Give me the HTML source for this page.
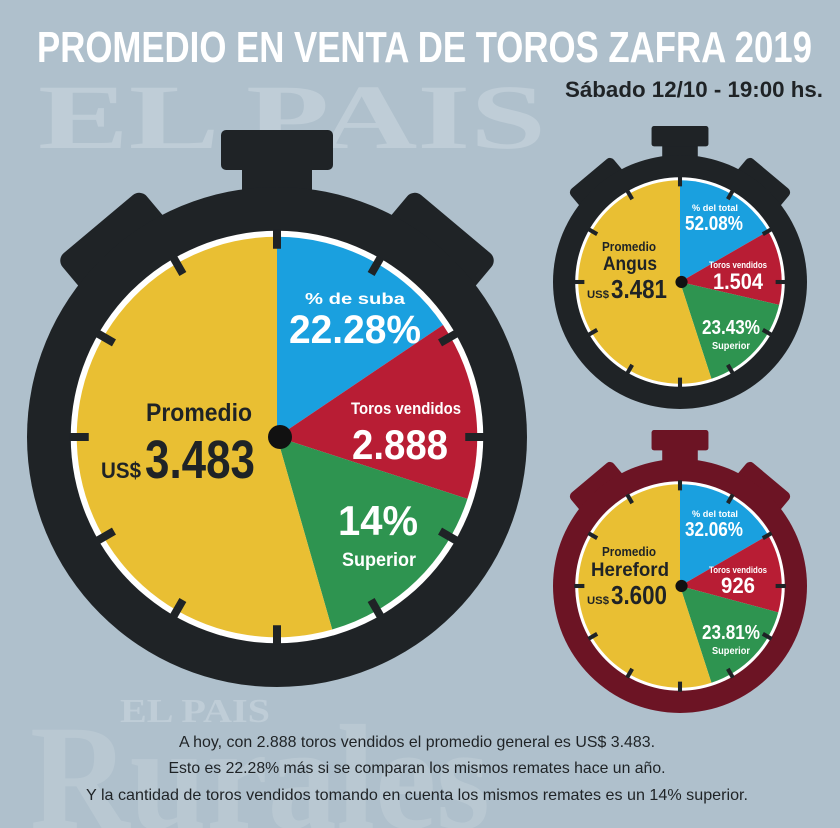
<!DOCTYPE html>
<html><head><meta charset="utf-8"><style>
html,body{margin:0;padding:0;background:#afc0cc;}
svg{display:block;}
text{font-family:"Liberation Sans",sans-serif;font-weight:bold;}
</style></head><body>
<svg id="chart" width="840" height="828" viewBox="0 0 840 828" xmlns="http://www.w3.org/2000/svg">
<rect width="840" height="828" fill="#afc0cc"/>
<text x="38" y="148" font-family="Liberation Serif" font-size="92" fill="#bfcdd7" textLength="508" lengthAdjust="spacingAndGlyphs" style="font-family:'Liberation Serif',serif">EL PAIS</text>
<text x="30" y="828" font-size="150" fill="#b9c8d2" textLength="460" lengthAdjust="spacingAndGlyphs" style="font-family:'Liberation Serif',serif">Rurales</text>
<text x="120" y="722" font-size="34" fill="#bfcdd7" textLength="150" lengthAdjust="spacingAndGlyphs" style="font-family:'Liberation Serif',serif">EL PAIS</text>
<text x="37" y="62" font-size="44" fill="#ffffff" textLength="775" lengthAdjust="spacingAndGlyphs">PROMEDIO EN VENTA DE TOROS ZAFRA 2019</text>
<text x="565" y="97" font-size="22" fill="#1f2326" textLength="258" lengthAdjust="spacingAndGlyphs">Sábado 12/10 - 19:00 hs.</text>
<g id="watches"></g>
<g font-size="16" fill="#1f2326" text-anchor="middle">
<text x="417" y="747" style="font-weight:normal" textLength="476" lengthAdjust="spacingAndGlyphs">A hoy, con 2.888 toros vendidos el promedio general es US$ 3.483.</text>
<text x="417" y="773" style="font-weight:normal" textLength="497" lengthAdjust="spacingAndGlyphs">Esto es 22.28% más si se comparan los mismos remates hace un año.</text>
<text x="417" y="800" style="font-weight:normal" textLength="662" lengthAdjust="spacingAndGlyphs">Y la cantidad de toros vendidos tomando en cuenta los mismos remates es un 14% superior.</text>
</g>
</svg>
<script>
// slice end angles (degrees clockwise from 12 o'clock): blue, red, green, yellow
const sliceNames = ['blue','red','green','yellow'];
const sliceColors = ['#1aa0df','#b81d34','#2e9450','#e9bf33'];
const generalEnds = [56, 108, 164, 360];
const angusEnds = [60, 103, 162, 360];
const herefordEnds = [60, 105, 162, 360];

const NS='http://www.w3.org/2000/svg';
const root=document.getElementById('watches');
function el(tag,attrs,parent){const e=document.createElementNS(NS,tag);for(const k in attrs)e.setAttribute(k,attrs[k]);(parent||root).appendChild(e);return e;}
function pt(cx,cy,r,a){const t=(a-90)*Math.PI/180;return [cx+r*Math.cos(t),cy+r*Math.sin(t)];}

function watch(name,cx,cy,R,body,ends){
  const g=el('g',{});
  
  
  const s=R/250;
  [-40,40].forEach(a=>{
    const b=el('rect',{x:cx-55*s,y:cy-R-28*s,width:110*s,height:80*s,rx:10*s,fill:body,transform:`rotate(${a} ${cx} ${cy})`},g);
    
    
  });
  const stem=el('rect',{x:cx-35*s,y:cy-R-20*s,width:70*s,height:50*s,fill:body},g);
  
  
  const crown=el('rect',{x:cx-56*s,y:cy-R-57*s,width:112*s,height:40*s,rx:5*s,fill:body},g);
  
  
  const c=el('circle',{cx,cy,r:R,fill:body},g);
  
  
  const fr=R*0.825;
  const ring=el('circle',{cx,cy,r:fr,fill:'#ffffff'},g);
  
  
  const pr=fr-6*s;
  let start=0;
  ends.forEach((e,i)=>{
    const [x1,y1]=pt(cx,cy,pr,start),[x2,y2]=pt(cx,cy,pr,e);
    const p=el('path',{d:`M${cx},${cy}L${x1},${y1}A${pr},${pr} 0 ${e-start>180?1:0} 1 ${x2},${y2}Z`,fill:sliceColors[i]},g);
    
    
    start=e;
  });
  for(let k=0;k<12;k++){
    const a=k*30,[x1,y1]=pt(cx,cy,fr-18*s,a),[x2,y2]=pt(cx,cy,fr+1,a);
    const t=el('line',{x1,y1,x2,y2,stroke:'#1f2326','stroke-width':8*s},g);
    
    
  }
  const hub=el('circle',{cx:cx+3*s,cy,r:12*s,fill:'#111'},g);
  
  
  return g;
}
function txt(g,name,x,y,size,fill,str,w){
  const t=el('text',{x,y,'font-size':size,fill,'text-anchor':'middle'},g);
  if(w){t.setAttribute('textLength',w);t.setAttribute('lengthAdjust','spacingAndGlyphs');}
  
  
  t.textContent=str;return t;
}
const dark='#1f2326';
const g1=watch('stopwatch-general',277,437,250,dark,generalEnds);
txt(g1,'label-suba',355,304,16,'#fff','% de suba',100);
txt(g1,'value-suba',355,343,40,'#fff','22.28%',132);
txt(g1,'label-toros',406,414,17,'#fff','Toros vendidos',110);
txt(g1,'value-toros',400,459,42,'#fff','2.888',96);
txt(g1,'value-superior',378,535,42,'#fff','14%',80);
txt(g1,'label-superior',379,566,19,'#fff','Superior',74);
txt(g1,'label-promedio',199,421,25,dark,'Promedio',106);
txt(g1,'value-promedio-general',200,478,54,dark,'3.483',110);
txt(g1,'label-usd',121,478,22,dark,'US$',40);

const g2=watch('stopwatch-angus',680,282,127,dark,angusEnds);
txt(g2,'label-total',715,211,9,'#fff','% del total',46);
txt(g2,'value-total',714,230,20,'#fff','52.08%',58);
txt(g2,'label-toros',738,268,9,'#fff','Toros vendidos',58);
txt(g2,'value-toros',738,289,22,'#fff','1.504',50);
txt(g2,'value-superior',731,334,20,'#fff','23.43%',58);
txt(g2,'label-superior',731,349,10,'#fff','Superior',38);
txt(g2,'label-promedio',629,251,13,dark,'Promedio',54);
txt(g2,'label-breed',630,270,19,dark,'Angus',54);
txt(g2,'value-promedio',639,298,26,dark,'3.481',56);
txt(g2,'label-usd',598,298,11,dark,'US$',22);

const g3=watch('stopwatch-hereford',680,586,127,'#6c1424',herefordEnds);
txt(g3,'label-total',715,517,9,'#fff','% del total',46);
txt(g3,'value-total',714,536,20,'#fff','32.06%',58);
txt(g3,'label-toros',738,573,9,'#fff','Toros vendidos',58);
txt(g3,'value-toros',738,593,22,'#fff','926',34);
txt(g3,'value-superior',731,639,20,'#fff','23.81%',58);
txt(g3,'label-superior',731,654,10,'#fff','Superior',38);
txt(g3,'label-promedio',629,556,13,dark,'Promedio',54);
txt(g3,'label-breed',630,576,19,dark,'Hereford',78);
txt(g3,'value-promedio',639,604,26,dark,'3.600',56);
txt(g3,'label-usd',598,604,11,dark,'US$',22);
</script>
</body></html>
